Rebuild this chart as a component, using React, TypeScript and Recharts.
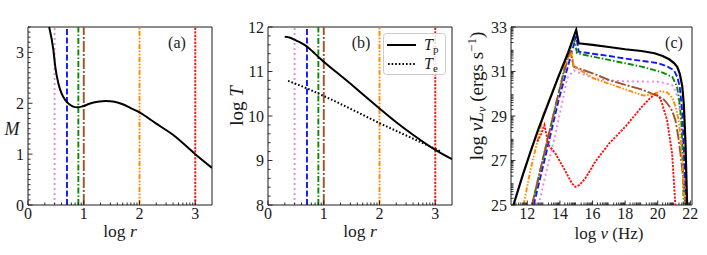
import { LineChart, Line, XAxis, YAxis, ReferenceLine, ReferenceArea } from "recharts"

const FONT = "'Liberation Serif', 'DejaVu Serif', serif"
const INK = "#1a1a1a"

// (a) Mach number against log r
const machLogR = [0.38, 0.455, 0.49, 0.545, 0.6, 0.67, 0.72, 0.8, 0.88, 0.98, 1.1, 1.25, 1.4, 1.55, 1.7, 1.85, 2.0, 2.3, 2.6, 3.0, 3.3]
const machM = [3.5, 3.05, 2.71, 2.39, 2.2, 2.06, 2.0, 1.94, 1.92, 1.94, 1.99, 2.03, 2.045, 2.03, 1.98, 1.9, 1.82, 1.6, 1.38, 1.0, 0.73]

// (b) temperatures against log r
const tpLogR = [0.3, 0.4, 0.48, 0.6, 0.7, 0.8, 0.9, 1.0, 1.2, 1.4, 1.7, 2.0, 2.3, 2.6, 3.0, 3.3]
const tpLogT = [11.78, 11.76, 11.71, 11.64, 11.56, 11.45, 11.33, 11.22, 11.01, 10.81, 10.49, 10.17, 9.86, 9.58, 9.24, 9.03]
const teLogR = [0.36, 0.7, 1.0, 1.5, 2.0, 2.5, 3.0, 3.1]
const teLogT = [10.79, 10.62, 10.45, 10.15, 9.84, 9.55, 9.26, 9.2]

// radii marked in (a) and (b), log r
const markerLogR = [0.477, 0.699, 0.903, 1, 2, 3]

// (c) spectra, log nu vs log nuL_nu
const specTotalX = [11.15, 11.7, 12.2, 12.7, 13.3, 13.9, 14.5, 15.0, 15.15, 16.0, 17.0, 18.0, 19.0, 19.8, 20.3, 20.7, 21.0, 21.2, 21.35, 21.5, 21.6, 21.7, 21.8]
const specTotalY = [25, 26.3, 27.4, 28.45, 29.6, 30.75, 31.85, 32.87, 32.27, 32.2, 32.1, 32.0, 31.92, 31.82, 31.7, 31.55, 31.38, 31.2, 30.9, 30.35, 29.5, 27.8, 25]
const spec3X = [12.69, 13.2, 13.7, 14.13, 14.45, 14.85, 15.5, 16.07, 17.0, 18.0, 19.0, 20.06, 20.6, 20.88, 21.1, 21.28, 21.45, 21.59, 21.73]
const spec3Y = [25, 26.6, 28.1, 29.57, 30.7, 31.05, 30.85, 30.69, 30.6, 30.56, 30.55, 30.54, 30.45, 30.39, 30.1, 29.72, 28.6, 27.32, 25]
const spec5X = [12.39, 13.0, 13.5, 13.92, 14.4, 14.74, 15.0, 15.15, 16.0, 17.0, 18.0, 19.0, 20.0, 20.6, 21.0, 21.2, 21.35, 21.5, 21.6, 21.7]
const spec5Y = [25, 26.85, 28.4, 29.72, 31.0, 31.89, 32.6, 31.89, 31.8, 31.7, 31.58, 31.48, 31.38, 31.22, 31.05, 30.75, 30.3, 29.2, 27.5, 25]
const spec8X = [12.29, 13.0, 13.82, 14.3, 14.84, 15.05, 16.0, 17.0, 18.0, 19.0, 19.75, 20.3, 20.6, 20.9, 21.18, 21.3, 21.45, 21.52, 21.59]
const spec8Y = [25, 27.2, 29.72, 31.2, 32.55, 31.82, 31.67, 31.52, 31.37, 31.22, 31.07, 30.95, 30.85, 30.75, 30.32, 29.8, 28.8, 27.3, 25]
const spec10X = [12.29, 13.0, 13.82, 14.3, 14.64, 14.84, 16.0, 17.0, 18.0, 19.0, 19.6, 20.0, 20.4, 20.7, 20.9, 21.08, 21.25, 21.39, 21.55, 21.7]
const spec10Y = [25, 27.2, 29.72, 31.1, 31.97, 31.22, 30.92, 30.62, 30.4, 30.2, 30.02, 29.9, 29.72, 29.45, 29.2, 28.82, 28.1, 27.32, 26.3, 25]
const spec100X = [11.77, 12.2, 12.69, 13.0, 13.5, 14.0, 14.53, 14.74, 14.84, 15.5, 16.07, 17.0, 18.0, 18.6, 19.13, 19.75, 20.2, 20.6, 20.9, 21.1, 21.28, 21.4, 21.53, 21.65]
const spec100Y = [25, 26.6, 28.07, 29.1, 30.0, 30.95, 31.6, 31.82, 31.22, 30.95, 30.69, 30.45, 30.2, 30.05, 29.92, 29.98, 30.12, 30.05, 29.8, 29.4, 28.82, 28.0, 26.57, 25]
const spec1000X = [12.62, 12.85, 13.05, 13.3, 13.72, 14.2, 14.74, 14.94, 15.2, 15.56, 16.17, 17.0, 18.01, 19.03, 19.5, 19.85, 20.1, 20.26, 20.57, 20.88, 21.08]
const spec1000Y = [27.85, 28.2, 28.6, 27.7, 27.32, 26.7, 25.97, 25.82, 25.9, 26.2, 26.95, 27.75, 28.52, 29.42, 29.78, 30.0, 29.85, 29.57, 28.82, 27.32, 25.0]

// tick labels
const rTicks = [0, 1, 2, 3]
const machTicks = [0, 1, 2, 3]
const tTicks = [8, 9, 10, 11, 12]
const nuTicks = [12, 14, 16, 18, 20, 22]
const lumTicks = [25, 27, 29, 31, 33]

// one style per marked radius: r = 3, 5, 8, 10, 100, 1000
const markerStyles = [
  { color: "#ee82ee", dash: "2 3" },
  { color: "#1515ff", dash: "6 2.5" },
  { color: "#0a8a0a", dash: "6 2 1.5 2" },
  { color: "#a0522d", dash: "11 2 2 2" },
  { color: "#ff8c00", dash: "5 1.6 1.6 1.6 1.6 1.6" },
  { color: "#ff1010", dash: "2.2 1.3" },
]

const zip = (xs: number[], ys: number[]) => xs.map((x, i) => ({ x, y: ys[i] }))

const logMinor = (lo: number, hi: number) => {
  const out: number[] = []
  for (let n = Math.floor(lo); n <= hi; n++)
    for (let k = 2; k <= 9; k++) {
      const v = n + Math.log10(k)
      if (v > lo && v < hi) out.push(v)
    }
  return out
}
const linMinor = (lo: number, hi: number, step: number) => {
  const out: number[] = []
  for (let v = lo; v <= hi + 1e-9; v += step) out.push(Math.round(v * 1000) / 1000)
  return out
}

function makeTick(side: "x" | "y", majors: number[]) {
  return (props: any) => {
    const { x, y, payload } = props
    const v = payload.value
    const major = majors.some((m) => Math.abs(m - v) < 1e-6)
    const len = major ? 4.5 : 2.5
    if (side === "x")
      return (
        <g>
          <line x1={x} x2={x} y1={y} y2={y - len} stroke={INK} strokeWidth={0.9} />
          {major && (
            <text x={x} y={y + 14} textAnchor="middle" fontFamily={FONT} fontSize={16} fill={INK}>
              {v}
            </text>
          )}
        </g>
      )
    return (
      <g>
        <line x1={x} x2={x + len} y1={y} y2={y} stroke={INK} strokeWidth={0.9} />
        {major && (
          <text x={x - 4} y={y + 5.5} textAnchor="end" fontFamily={FONT} fontSize={16} fill={INK}>
            {v}
          </text>
        )}
      </g>
    )
  }
}

const allTicks = (majors: number[], minors: number[]) =>
  [...majors, ...minors.filter((m) => !majors.some((v) => Math.abs(v - m) < 1e-6))].sort((a, b) => a - b)

function Markers() {
  return markerLogR.map((r, i) => (
    <ReferenceLine
      key={i}
      x={r}
      stroke={markerStyles[i].color}
      strokeWidth={1.9}
      strokeDasharray={markerStyles[i].dash}
    />
  ))
}

function PanelA() {
  return (
    <LineChart width={235} height={255} margin={{ top: 27, right: 23, bottom: 49, left: 27 }}>
      <XAxis type="number" dataKey="x" domain={[0, 3.3]} allowDataOverflow height={1} axisLine={false} tickLine={false}
        tickSize={0} tickMargin={0} interval={0} ticks={allTicks(rTicks, logMinor(0, 3.3))} tick={makeTick("x", rTicks)} />
      <YAxis type="number" domain={[0, 3.5]} allowDataOverflow width={1} axisLine={false} tickLine={false}
        tickSize={0} tickMargin={0} interval={0} ticks={allTicks(machTicks, linMinor(0, 3.5, 0.1))} tick={makeTick("y", machTicks)} />
      {Markers()}
      <Line data={zip(machLogR, machM)} dataKey="y" type="monotone" stroke="#000" strokeWidth={2} dot={false} isAnimationActive={false} />
      <ReferenceArea x1={0} x2={3.3} y1={0} y2={3.5} ifOverflow="visible" fill="none" stroke={INK} strokeWidth={1} />
    </LineChart>
  )
}

function PanelB() {
  return (
    <LineChart width={235} height={255} margin={{ top: 27, right: 18, bottom: 49, left: 32 }}>
      <XAxis type="number" dataKey="x" domain={[0, 3.3]} allowDataOverflow height={1} axisLine={false} tickLine={false}
        tickSize={0} tickMargin={0} interval={0} ticks={allTicks(rTicks, logMinor(0, 3.3))} tick={makeTick("x", rTicks)} />
      <YAxis type="number" domain={[8, 12]} allowDataOverflow width={1} axisLine={false} tickLine={false}
        tickSize={0} tickMargin={0} interval={0} ticks={allTicks(tTicks, linMinor(8, 12, 0.2))} tick={makeTick("y", tTicks)} />
      {Markers()}
      <Line data={zip(tpLogR, tpLogT)} dataKey="y" type="monotone" stroke="#000" strokeWidth={2} dot={false} isAnimationActive={false} />
      <Line data={zip(teLogR, teLogT)} dataKey="y" type="monotone" stroke="#000" strokeWidth={2} strokeDasharray="1.6 2" dot={false} isAnimationActive={false} />
      <ReferenceArea x1={0} x2={3.3} y1={8} y2={12} ifOverflow="visible" fill="none" stroke={INK} strokeWidth={1} />
    </LineChart>
  )
}

const spectra = [
  { xs: spec3X, ys: spec3Y, style: 0 },
  { xs: spec5X, ys: spec5Y, style: 1 },
  { xs: spec8X, ys: spec8Y, style: 2 },
  { xs: spec10X, ys: spec10Y, style: 3 },
  { xs: spec100X, ys: spec100Y, style: 4 },
  { xs: spec1000X, ys: spec1000Y, style: 5 },
]

function PanelC() {
  return (
    <LineChart width={237} height={255} margin={{ top: 27, right: 15, bottom: 49, left: 40 }}>
      <XAxis type="number" dataKey="x" domain={[11, 22.1]} allowDataOverflow height={1} axisLine={false} tickLine={false}
        tickSize={0} tickMargin={0} interval={0} ticks={allTicks(nuTicks, logMinor(11, 22.1))} tick={makeTick("x", nuTicks)} />
      <YAxis type="number" domain={[25, 33]} allowDataOverflow width={1} axisLine={false} tickLine={false}
        tickSize={0} tickMargin={0} interval={0} ticks={allTicks(lumTicks, logMinor(25, 33))} tick={makeTick("y", lumTicks)} />
      {spectra.map((s, i) => (
        <Line key={i} data={zip(s.xs, s.ys)} dataKey="y" type="linear" stroke={markerStyles[s.style].color}
          strokeWidth={1.9} strokeDasharray={markerStyles[s.style].dash} dot={false} isAnimationActive={false} />
      ))}
      <Line data={zip(specTotalX, specTotalY)} dataKey="y" type="linear" stroke="#000" strokeWidth={2.2} dot={false} isAnimationActive={false} />
      <ReferenceArea x1={11} x2={22.1} y1={25} y2={33} ifOverflow="visible" fill="none" stroke={INK} strokeWidth={1} />
    </LineChart>
  )
}

function Labels() {
  const t = { fontFamily: FONT, fill: INK }
  return (
    <svg width={707} height={255} style={{ position: "absolute", left: 0, top: 0, pointerEvents: "none" }}>
      <text x={12} y={135} textAnchor="middle" fontSize={18} fontStyle="italic" {...t}>M</text>
      <text x={120} y={237} textAnchor="middle" fontSize={17.5} {...t}>log <tspan fontStyle="italic">r</tspan></text>
      <text x={177} y={48} textAnchor="middle" fontSize={16} {...t}>(a)</text>

      <text transform="translate(243,106) rotate(-90)" textAnchor="middle" fontSize={19} {...t}>log <tspan fontStyle="italic">T</tspan></text>
      <text x={360} y={237} textAnchor="middle" fontSize={17.5} {...t}>log <tspan fontStyle="italic">r</tspan></text>
      <text x={361} y={48} textAnchor="middle" fontSize={16} {...t}>(b)</text>
      <rect x={383.5} y={33.5} width={62} height={41} rx={3} fill="#fff" fillOpacity={0.85} stroke="#ccc" strokeWidth={1} />
      <line x1={387} x2={416} y1={45} y2={45} stroke="#000" strokeWidth={2} />
      <line x1={388} x2={416} y1={64} y2={64} stroke="#000" strokeWidth={2} strokeDasharray="1.6 2" />
      <text x={424} y={50} fontSize={16} {...t}><tspan fontStyle="italic">T</tspan><tspan fontSize={11} dy={3}>p</tspan></text>
      <text x={424} y={69} fontSize={16} {...t}><tspan fontStyle="italic">T</tspan><tspan fontSize={11} dy={3}>e</tspan></text>

      <text transform="translate(483,96) rotate(-90)" textAnchor="middle" fontSize={19} {...t}>
        log <tspan fontStyle="italic">νL</tspan><tspan fontStyle="italic" fontSize={13} dy={3}>ν</tspan>
        <tspan dy={-3}> (ergs s</tspan><tspan fontSize={13} dy={-7}>−1</tspan><tspan dy={7}>)</tspan>
      </text>
      <text x={609} y={239} textAnchor="middle" fontSize={17} {...t}>log <tspan fontStyle="italic">ν</tspan> (Hz)</text>
      <text x={674} y={48} textAnchor="middle" fontSize={16} {...t}>(c)</text>
    </svg>
  )
}

export default function App() {
  return (
    <div style={{ position: "absolute", left: 0, top: 0, width: 707, height: 255, background: "#fff" }}>
      <div style={{ position: "absolute", left: 0, top: 0 }}><PanelA /></div>
      <div style={{ position: "absolute", left: 235, top: 0 }}><PanelB /></div>
      <div style={{ position: "absolute", left: 470, top: 0 }}><PanelC /></div>
      <Labels />
    </div>
  )
}
